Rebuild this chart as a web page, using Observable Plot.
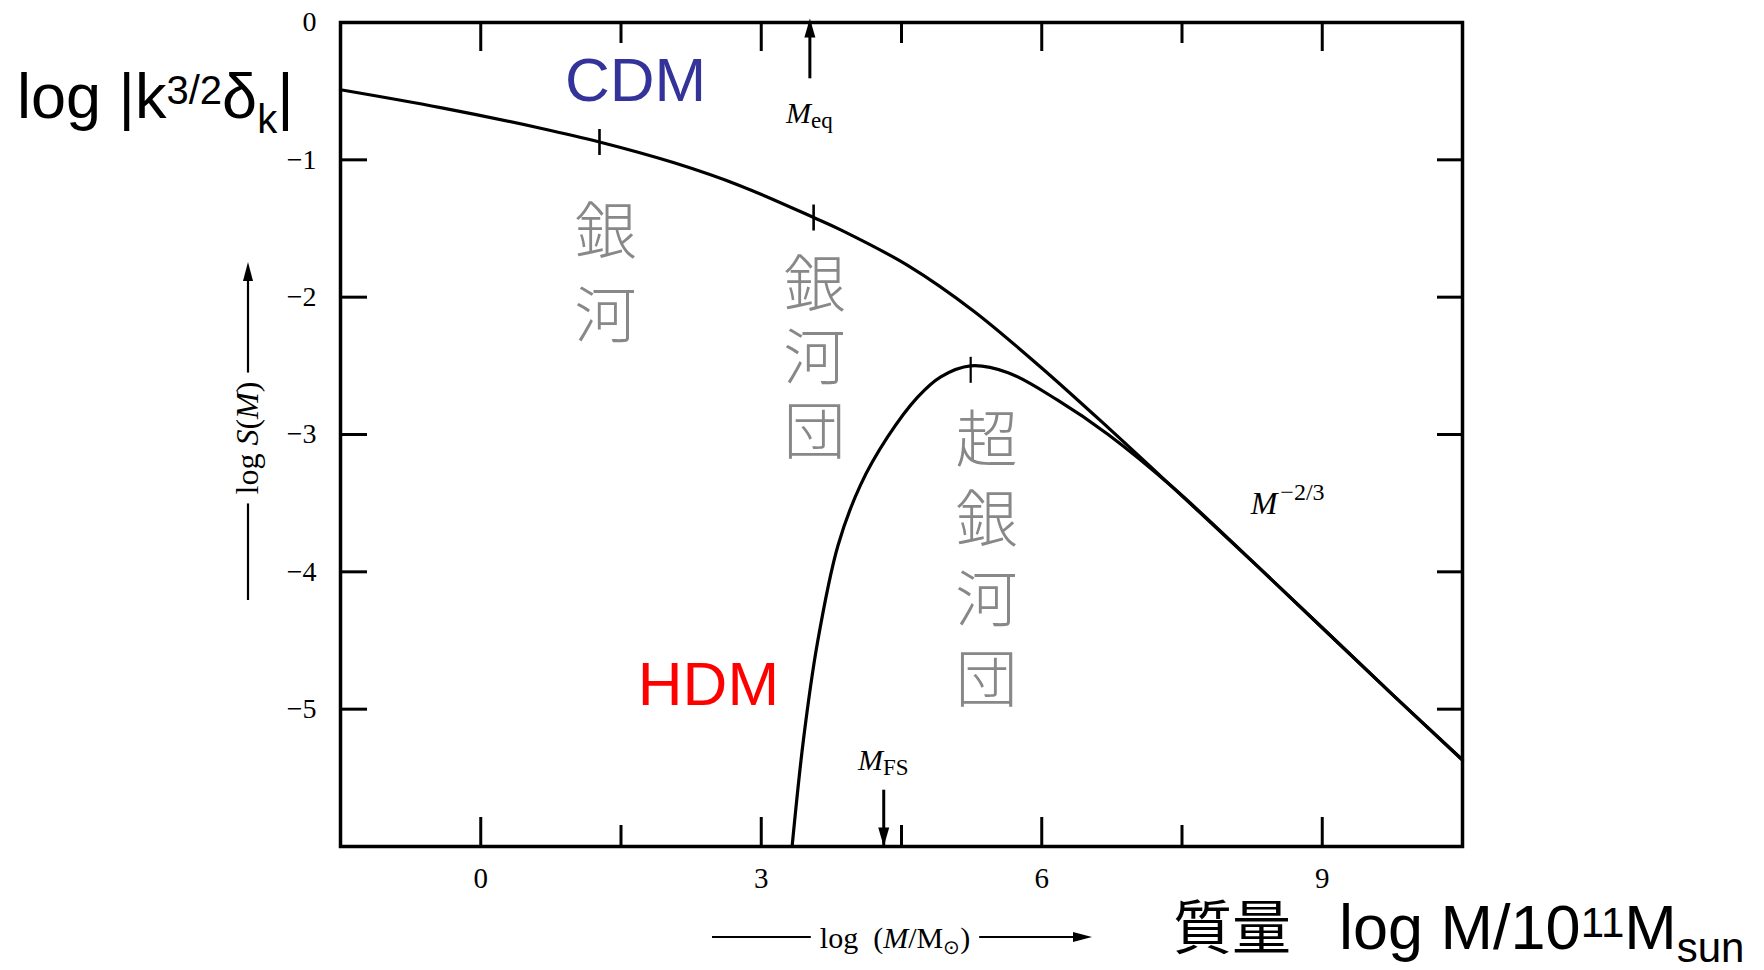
<!DOCTYPE html>
<html>
<head>
<meta charset="utf-8">
<script src="https://cdn.jsdelivr.net/npm/d3@7"></script>
<script src="https://cdn.jsdelivr.net/npm/@observablehq/plot@0.6"></script>
<style>
  html, body { margin: 0; padding: 0; background: #fff; }
  #chart { width: 1764px; height: 970px; }
</style>
</head>
<body>
<div id="chart"></div>
<script>
// Rms mass fluctuation S(M) for cold (CDM) and hot (HDM) dark matter,
// log S(M) against log(M / M_sun).

const cdmLogM = [-1.5, -0.43, 0.64, 1.27, 2.06, 2.78, 3.56, 3.85, 4.57, 5.27, 5.99, 6.71, 7.41, 8.34, 9.76, 10.5];
const cdmLogS = [-0.49, -0.62, -0.77, -0.87, -1.02, -1.19, -1.42, -1.51, -1.77, -2.10, -2.51, -2.95, -3.39, -3.98, -4.90, -5.37];

const hdmLogM = [3.33, 3.45, 3.60, 3.82, 4.06, 4.35, 4.67, 4.92, 5.24, 5.64, 6.17, 6.71, 7.41, 8.34, 9.76, 10.5];
const hdmLogS = [-6.0, -5.23, -4.52, -3.81, -3.37, -3.02, -2.73, -2.58, -2.50, -2.55, -2.75, -3.00, -3.39, -3.98, -4.90, -5.37];

const xMajorTicks = [0, 3, 6, 9];
const xMinorTicks = [1.5, 4.5, 7.5];
const yTickLabels = [0, -1, -2, -3, -4, -5];
const yFrameTicks = [-1, -2, -3, -4, -5];

// scale markers drawn across the curves
const cdmScaleMarks = [{logM: 1.27, logS: -0.87}, {logM: 3.56, logS: -1.42}];
const hdmPeakMark = [{logM: 5.24, logS: -2.50}];

// characteristic masses: M_eq (arrow from the top), M_FS (arrow to the bottom)
const eqArrow = [{logM: 3.52, from: -0.41, to: 0}];
const fsArrow = [{logM: 4.31, from: -5.59, to: -6}];

const massLabels = [
  {main: "M", sub: "eq", logM: 3.52, logS: -0.735},
  {main: "M", sub: "FS", logM: 4.31, logS: -5.45}
];
const slopeLabel = {main: "M", sup: "\u22122/3", logM: 8.24, logS: -3.58};

const curveLabels = [
  {name: "CDM", logM: 0.90, logS: -0.57},
  {name: "HDM", logM: 1.68, logS: -4.97}
];

// hand-written region names, written top to bottom: galaxy, cluster, supercluster
const regionLabels = [
  {text: "銀\n河", logM: 1.335, logS: -1.82},
  {text: "銀\n河\n団", logM: 3.57, logS: -2.435},
  {text: "超\n銀\n河\n団", logM: 5.41, logS: -3.90}
];
const regionLineHeights = [1.37, 1.19, 1.29];

const cdm = cdmLogM.map((m, i) => ({logM: m, logS: cdmLogS[i]}));
const hdm = hdmLogM.map((m, i) => ({logM: m, logS: hdmLogS[i]}));

const W = 1764, H = 970;
const margin = {top: 22, right: 302, bottom: 124, left: 340};
const frameW = W - margin.left - margin.right;
const frameH = H - margin.top - margin.bottom;
const serif = "Liberation Serif, Times New Roman, serif";
const sans = "Liberation Sans, Arial, sans-serif";
const cdmColor = "#333399";
const hdmColor = "#ff0000";
const regionFont = 62;
const fmtTick = d3.format("d");

// symbols: short vertical bar, and arrowheads with their tip at the anchor
const vBar = {draw(ctx, size) { const r = Math.sqrt(size / Math.PI); ctx.moveTo(0, -r); ctx.lineTo(0, r); }};
const headUp = {draw(ctx) { ctx.moveTo(0, 0); ctx.lineTo(-5.5, 19); ctx.lineTo(5.5, 19); ctx.closePath(); }};
const headDown = {draw(ctx) { ctx.moveTo(0, 0); ctx.lineTo(-5.5, -19); ctx.lineTo(5.5, -19); ctx.closePath(); }};

// one text mark per column; the glyph block is centred on the anchor
const regionMarks = regionLabels.map((d, i) => {
  const lh = regionLineHeights[i];
  return Plot.text([d], {
    x: "logM", y: "logS", text: "text", fontSize: regionFont, fontWeight: 300,
    fontFamily: "Noto Sans CJK JP", fill: "#888888", lineAnchor: "middle",
    lineHeight: lh, dy: -(0.32 * lh - 0.38) * regionFont
  });
});

const plot = Plot.plot({
  width: W,
  height: H,
  marginTop: margin.top,
  marginRight: margin.right,
  marginBottom: margin.bottom,
  marginLeft: margin.left,
  style: {background: "#fff", color: "#000", overflow: "visible"},
  x: {domain: [-1.5, 10.5], label: null},
  y: {domain: [-6, 0], label: null},
  marks: [
    // inward ticks on all four sides
    Plot.tickX(xMajorTicks, {x: d => d, insetTop: frameH - 29, stroke: "#000", strokeWidth: 3}),
    Plot.tickX(xMinorTicks, {x: d => d, insetTop: frameH - 21, stroke: "#000", strokeWidth: 3}),
    Plot.tickX(xMajorTicks, {x: d => d, insetBottom: frameH - 29, stroke: "#000", strokeWidth: 3}),
    Plot.tickX(xMinorTicks, {x: d => d, insetBottom: frameH - 21, stroke: "#000", strokeWidth: 3}),
    Plot.tickY(yFrameTicks, {y: d => d, insetRight: frameW - 27, stroke: "#000", strokeWidth: 3}),
    Plot.tickY(yFrameTicks, {y: d => d, insetLeft: frameW - 25, stroke: "#000", strokeWidth: 3}),
    Plot.axisX(xMajorTicks, {anchor: "bottom", tickSize: 0, tickPadding: 21, fontSize: 29,
      fontFamily: serif, tickFormat: fmtTick, label: null}),
    Plot.axisY(yTickLabels, {anchor: "left", tickSize: 0, tickPadding: 24, fontSize: 28,
      fontFamily: serif, tickFormat: fmtTick, label: null}),

    // hand-written region names
    ...regionMarks,

    // spectra
    Plot.line(cdm, {x: "logM", y: "logS", curve: "catmull-rom", stroke: "#000", strokeWidth: 3.2}),
    Plot.line(hdm, {x: "logM", y: "logS", curve: "catmull-rom", stroke: "#000", strokeWidth: 3.2, clip: true}),
    Plot.dot(cdmScaleMarks, {x: "logM", y: "logS", symbol: vBar, r: 13, stroke: "#000", strokeWidth: 2.6, fill: "none"}),
    Plot.dot(hdmPeakMark, {x: "logM", y: "logS", symbol: vBar, r: 13, dy: 4, stroke: "#000", strokeWidth: 2.2, fill: "none"}),

    // characteristic mass arrows
    Plot.ruleX(eqArrow, {x: "logM", y1: "from", y2: "to", stroke: "#000", strokeWidth: 3}),
    Plot.dot(eqArrow, {x: "logM", y: "to", symbol: headUp, fill: "#000", stroke: "none", dy: -4}),
    Plot.ruleX(fsArrow, {x: "logM", y1: "from", y2: "to", stroke: "#000", strokeWidth: 3}),
    Plot.dot(fsArrow, {x: "logM", y: "to", symbol: headDown, fill: "#000", stroke: "none"}),

    // curve names
    Plot.text(curveLabels.filter(d => d.name === "CDM"), {x: "logM", y: "logS", text: "name",
      fontSize: 62, fontFamily: sans, fill: cdmColor, textAnchor: "start", lineAnchor: "bottom"}),
    Plot.text(curveLabels.filter(d => d.name === "HDM"), {x: "logM", y: "logS", text: "name",
      fontSize: 62, fontFamily: sans, fill: hdmColor, textAnchor: "start", lineAnchor: "bottom"}),

    Plot.frame({stroke: "#000", strokeWidth: 3.5})
  ]
});

document.getElementById("chart").appendChild(plot);

const svg = d3.select(plot);
const sx = plot.scale("x"), sy = plot.scale("y");

// M_eq, M_FS labels
for (const d of massLabels) {
  const t = svg.append("text")
    .attr("x", sx.apply(d.logM)).attr("y", sy.apply(d.logS))
    .attr("text-anchor", "middle").attr("font-family", serif).attr("fill", "#000");
  t.append("tspan").attr("font-style", "italic").attr("font-size", 30).text(d.main);
  t.append("tspan").attr("font-size", 23).attr("dy", 5).text(d.sub);
}

// power-law slope label
{
  const t = svg.append("text")
    .attr("x", sx.apply(slopeLabel.logM)).attr("y", sy.apply(slopeLabel.logS))
    .attr("text-anchor", "start").attr("font-family", serif).attr("fill", "#000");
  t.append("tspan").attr("font-style", "italic").attr("font-size", 32).text(slopeLabel.main);
  t.append("tspan").attr("font-size", 24).attr("dy", -14).attr("dx", 3).text(slopeLabel.sup);
}

// vertical axis title with upward arrow
{
  const g = svg.append("g");
  g.append("line").attr("x1", 248).attr("x2", 248).attr("y1", 600).attr("y2", 275)
    .attr("stroke", "#000").attr("stroke-width", 2.2);
  g.append("path").attr("d", "M248,262 L243,281 L253,281 Z").attr("fill", "#000");
  const gt = g.append("g").attr("transform", "translate(258,438) rotate(-90)");
  const bg = gt.append("rect").attr("fill", "#fff");
  const t = gt.append("text").attr("text-anchor", "middle").attr("font-family", serif)
    .attr("font-size", 32).attr("fill", "#000");
  t.append("tspan").text("log ");
  t.append("tspan").attr("font-style", "italic").text("S");
  t.append("tspan").text("(");
  t.append("tspan").attr("font-style", "italic").text("M");
  t.append("tspan").text(")");
  const b = t.node().getBBox();
  bg.attr("x", b.x - 9).attr("y", b.y - 4).attr("width", b.width + 18).attr("height", b.height + 8);
}

// horizontal axis title with rightward arrow
{
  const g = svg.append("g");
  g.append("line").attr("x1", 712).attr("x2", 1078).attr("y1", 937).attr("y2", 937)
    .attr("stroke", "#000").attr("stroke-width", 2.2);
  g.append("path").attr("d", "M1092,937 L1073,932 L1073,942 Z").attr("fill", "#000");
  const bg = g.append("rect").attr("fill", "#fff");
  const t = g.append("text").attr("x", 895).attr("y", 948).attr("text-anchor", "middle")
    .attr("font-family", serif).attr("font-size", 30).attr("fill", "#000");
  t.append("tspan").text("log  (");
  t.append("tspan").attr("font-style", "italic").text("M");
  t.append("tspan").text("/M");
  t.append("tspan").attr("font-size", 20).attr("dy", 6).text("\u2299");
  t.append("tspan").attr("dy", -6).text(")");
  const b = t.node().getBBox();
  bg.attr("x", b.x - 9).attr("y", b.y).attr("width", b.width + 18).attr("height", b.height);
}

// large overlay titles
{
  const t = svg.append("text").attr("x", 17).attr("y", 118).attr("text-anchor", "start")
    .attr("font-family", sans).attr("font-size", 63).attr("fill", "#000");
  t.append("tspan").text("log |k");
  t.append("tspan").attr("font-size", 40).attr("dy", -14).text("3/2");
  t.append("tspan").attr("font-size", 63).attr("dy", 14).text("\u03b4");
  t.append("tspan").attr("font-size", 40).attr("dy", 15).text("k");
  t.append("tspan").attr("font-size", 63).attr("dy", -15).text("|");
}
{
  const t = svg.append("text").attr("y", 949).attr("text-anchor", "start")
    .attr("fill", "#000").attr("font-family", sans);
  t.append("tspan").attr("x", 1173).attr("font-family", "Noto Sans CJK JP").attr("font-size", 59).text("質量");
  t.append("tspan").attr("x", 1339).attr("font-size", 63).text("log M/10");
  t.append("tspan").attr("font-size", 42).attr("dy", -12).text("11");
  t.append("tspan").attr("font-size", 63).attr("dy", 12).text("M");
  t.append("tspan").attr("font-size", 42).attr("dy", 13).text("sun");
}
</script>
</body>
</html>
